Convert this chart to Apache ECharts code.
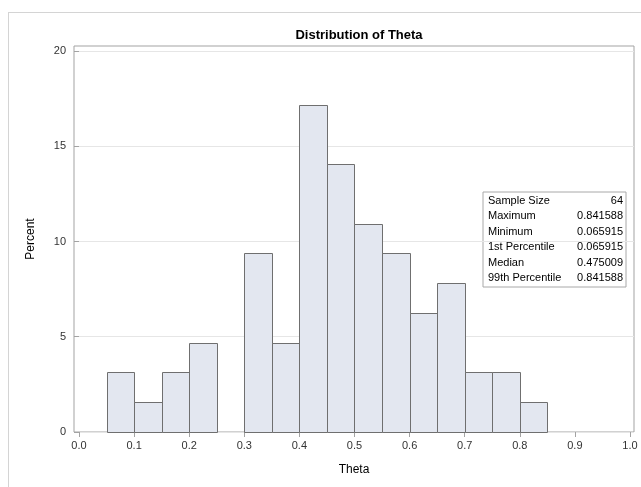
<!DOCTYPE html>
<html>
<head>
<meta charset="utf-8">
<script src="https://cdn.jsdelivr.net/npm/echarts@6/dist/echarts.min.js"></script>
<style>
html,body{margin:0;padding:0;background:#fff;}
#wrap{position:relative;width:641px;height:487px;overflow:hidden;}
#frame{position:absolute;left:8px;top:12px;width:640px;height:480px;border-left:1px solid #d4d4d4;border-top:1px solid #d4d4d4;}
#chart{position:absolute;left:0;top:0;width:641px;height:487px;}
</style>
</head>
<body>
<div id="wrap"><div id="frame"></div><div id="chart"></div></div>
<script>
// Histogram data
const binWidth = 0.05;
const binStarts = [0.05,0.10,0.15,0.20,0.25,0.30,0.35,0.40,0.45,0.50,0.55,0.60,0.65,0.70,0.75,0.80];
const percents  = [3.125,1.5625,3.125,4.6875,0,9.375,4.6875,17.1875,14.0625,10.9375,9.375,6.25,7.8125,3.125,3.125,1.5625];
const xTicks = [0,0.1,0.2,0.3,0.4,0.5,0.6,0.7,0.8,0.9,1.0];
const yTicks = [0,5,10,15,20];
const statLabels = ['Sample Size','Maximum','Minimum','1st Percentile','Median','99th Percentile'];
const statValues = ['64','0.841588','0.065915','0.065915','0.475009','0.841588'];

const FONT = '"Liberation Sans", Arial, sans-serif';
const chart = echarts.init(document.getElementById('chart'), null, {renderer:'canvas'});

const histData = binStarts.map((s,i)=>[s, s+binWidth, percents[i]]);

const insetX = 483, insetY = 192, insetW = 143, rowH = 15.5;
const insetChildren = [{
  type:'rect', shape:{x:0,y:0,width:insetW,height:rowH*statLabels.length+2},
  style:{fill:'#fff', stroke:'#a8a8a8', lineWidth:1}
}];
statLabels.forEach((lab,i)=>{
  insetChildren.push({type:'text', x:5, y:1+rowH*i+rowH/2,
    style:{text:lab, font:'11px '+FONT, fill:'#000', textVerticalAlign:'middle', textAlign:'left'}});
  insetChildren.push({type:'text', x:insetW-3, y:1+rowH*i+rowH/2,
    style:{text:statValues[i], font:'11px '+FONT, fill:'#000', textVerticalAlign:'middle', textAlign:'right'}});
});

chart.setOption({
  animation:false,
  title:{text:'Distribution of Theta', left:354, top:24, textAlign:'center',
    textStyle:{fontFamily:FONT, fontSize:13, fontWeight:'bold', color:'#000'}},
  grid:{left:74, right:7, top:46, bottom:55, show:true, borderColor:'#a3a3a3', borderWidth:1, backgroundColor:'transparent'},
  xAxis:{type:'value', min:-0.00907, max:1.00726,
    name:'Theta', nameLocation:'middle', nameGap:32,
    nameTextStyle:{fontFamily:FONT, fontSize:12, color:'#000'},
    axisLine:{show:false},
    axisTick:{show:true, length:5, customValues:xTicks, lineStyle:{color:'#a3a3a3'}},
    axisLabel:{customValues:xTicks, formatter:v=>v.toFixed(1), fontFamily:FONT, fontSize:11, color:'#333', margin:8},
    splitLine:{show:false}},
  yAxis:{type:'value', min:0, max:20.26,
    name:'Percent', nameLocation:'middle', nameGap:37, nameRotate:90,
    nameTextStyle:{fontFamily:FONT, fontSize:12, color:'#000'},
    axisLine:{show:false},
    axisTick:{show:true, length:5, customValues:yTicks, lineStyle:{color:'#a3a3a3'}},
    axisLabel:{customValues:yTicks, fontFamily:FONT, fontSize:11, color:'#333', margin:8},
    splitLine:{show:true, lineStyle:{color:'#e6e6e6'}}},
  series:[{
    type:'custom',
    data:histData,
    renderItem:function(params, api){
      if (api.value(2) <= 0) return null;
      const p0 = api.coord([api.value(0), api.value(2)]);
      const p1 = api.coord([api.value(1), 0]);
      return {type:'rect',
        shape:{x:Math.round(p0[0])+0.5, y:Math.round(p0[1])+0.5, width:Math.round(p1[0])-Math.round(p0[0]), height:Math.round(p1[1])-Math.round(p0[1])},
        style:{fill:'#e3e7f0', stroke:'#6f6f6f', lineWidth:1}};
    },
    encode:{x:[0,1], y:2}
  }],
  graphic:[{type:'group', x:insetX, y:insetY, z:100, children:insetChildren}]
});
</script>
</body>
</html>
